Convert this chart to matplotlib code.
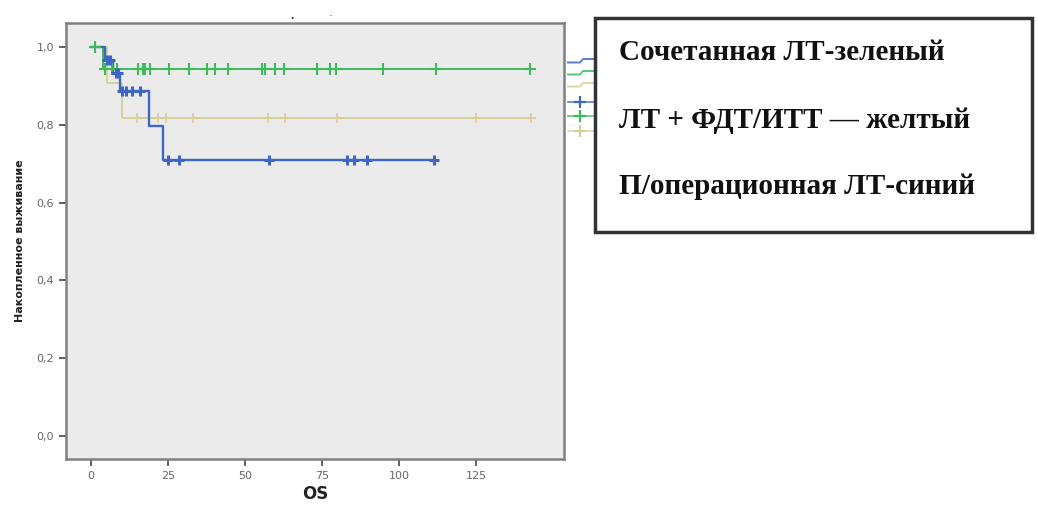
import matplotlib
matplotlib.use("Agg")
import matplotlib.pyplot as plt
from matplotlib.lines import Line2D
from matplotlib.patches import Rectangle
import numpy as np

# ---- data ----
green_t = [0, 4.0, 142.5]
green_s = [1.0, 0.945, 0.945]
green_cens = [1.3, 4.7, 6.8, 8.3, 15.3, 16.8, 17.5, 19.2, 25.4, 31.9, 37.6, 40.3, 44.4,
              55.4, 56.5, 59.7, 62.7, 73.3, 77.6, 79.5, 94.7, 111.9, 142.5]

yellow_t = [0, 5.1, 10.0, 143.0]
yellow_s = [1.0, 0.909, 0.818, 0.818]
yellow_cens = [15.0, 21.8, 24.4, 33.0, 57.5, 63.0, 80.0, 125.0, 143.0]

blue_t = [0, 4.5, 7.2, 9.4, 18.8, 23.4, 111.4]
blue_s = [1.0, 0.967, 0.933, 0.887, 0.797, 0.709, 0.709]
blue_cens = [5.2, 6.2, 8.0, 8.8, 10.0, 11.3, 13.2, 15.9, 25.0, 28.6, 57.8, 83.0, 85.4, 89.5, 111.4]

x_ticks = [0, 25, 50, 75, 100, 125]
y_ticks = [0.0, 0.2, 0.4, 0.6, 0.8, 1.0]
y_tick_labels = ["0,0", "0,2", "0,4", "0,6", "0,8", "1,0"]

legend_lines = ["Сочетанная ЛТ-зеленый",
                "ЛТ + ФДТ/ИТТ — желтый",
                "П/операционная ЛТ-синий"]

GREEN = "#3dbb5c"
YELLOW = "#d8cf95"
BLUE = "#3f66c4"

W, H = 1038, 505
fig = plt.figure(figsize=(W / 100, H / 100), dpi=100)
fig.patch.set_facecolor("white")

ax = fig.add_axes([66 / W, 1 - 459 / H, 498 / W, 436 / H])
ax.set_facecolor("#ebebeb")


def surv_at(t_arr, s_arr, times):
    idx = np.searchsorted(np.asarray(t_arr), np.asarray(times), side="right") - 1
    return np.asarray(s_arr)[idx]


for t, s, cens, col, lw, mew, ms in [
    (yellow_t, yellow_s, yellow_cens, YELLOW, 1.3, 1.2, 7),
    (green_t, green_s, green_cens, GREEN, 1.4, 1.5, 8),
    (blue_t, blue_s, blue_cens, BLUE, 1.7, 2.2, 7),
]:
    ax.step(t, s, where="post", color=col, lw=lw, zorder=3)
    ax.plot(cens, surv_at(t, s, cens), linestyle="none", marker="+",
            color=col, ms=ms, mew=mew, zorder=4)

ax.set_xlim(-8.1, 153.6)
ax.set_ylim(-0.059, 1.062)
ax.set_xticks(x_ticks)
ax.set_xticklabels([str(v) for v in x_ticks])
ax.set_yticks(y_ticks)
ax.set_yticklabels(y_tick_labels)
ax.tick_params(axis="both", direction="out", length=5, width=1.3, color="#555555",
               labelsize=8, labelcolor="#666666")
for sp in ax.spines.values():
    sp.set_color("#808080")
    sp.set_linewidth(1.8)

ax.set_xlabel("OS", fontsize=12, fontweight="bold", color="#222222", labelpad=3)
ax.set_ylabel("Накопленное выживание", fontsize=8, fontweight="bold", color="#222222",
              labelpad=8)

# tiny remnants at top
fig.text(292 / W, 1 - 19 / H, "·", fontsize=12, color="#444444", ha="center", va="center")
fig.text(331 / W, 1 - 17 / H, "·", fontsize=9, color="#666666", ha="center", va="center")

# SPSS legend stubs peeking out from behind the box
def fx(px):
    return px / W


def fy(py):
    return 1 - py / H


stub_cols = [BLUE, GREEN, YELLOW]
for i, col in enumerate(stub_cols):
    y0 = 62.5 + i * 12.0
    xs = [fx(568), fx(580), fx(583), fx(598)]
    ys = [fy(y0), fy(y0), fy(y0 - 3.5), fy(y0 - 3.5)]
    fig.add_artist(Line2D(xs, ys, transform=fig.transFigure, color=col, lw=1.4, alpha=0.85))
for i, col in enumerate(stub_cols):
    y0 = 101.5 + i * 14.5
    fig.add_artist(Line2D([fx(568), fx(598)], [fy(y0), fy(y0)], transform=fig.transFigure,
                          color=col, lw=1.2, alpha=0.85))
    fig.add_artist(Line2D([fx(580)], [fy(y0)], transform=fig.transFigure, color=col,
                          marker="+", ms=8, mew=1.6, linestyle="none"))

# overlaid white text box
box = Rectangle((fx(595), fy(232)), (1032 - 595) / W, (232 - 18) / H,
                transform=fig.transFigure, facecolor="white", edgecolor="#333333",
                lw=2.5, zorder=10)
fig.add_artist(box)
for i, txt in enumerate(legend_lines):
    fig.text(fx(619), fy(53 + i * 67), txt, fontsize=21, fontweight="bold",
             family=["Liberation Serif", "DejaVu Serif"], color="#111111",
             ha="left", va="center", zorder=11)

fig.savefig("out.png", dpi=100, facecolor="white")
